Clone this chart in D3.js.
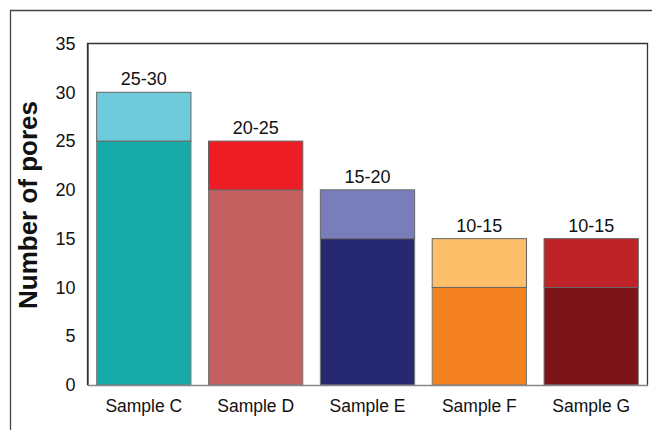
<!DOCTYPE html>
<html><head><meta charset="utf-8">
<script src="https://cdn.jsdelivr.net/npm/d3@7"></script>
<style>body{margin:0;background:#fff;}svg{display:block;font-family:"Liberation Sans",Arial,sans-serif;}</style>
</head><body>
<svg id="chart" width="652" height="430"></svg>
<script>
const categories = ["Sample C", "Sample D", "Sample E", "Sample F", "Sample G"];
const lowerValues = [25, 20, 15, 10, 10];
const upperValues = [30, 25, 20, 15, 15];
const rangeLabels = ["25-30", "20-25", "15-20", "10-15", "10-15"];
const lowerColors = ["#16aaa8", "#c46060", "#262872", "#f58220", "#7b1416"];
const upperColors = ["#6dcbdb", "#ee1c25", "#7a7dbb", "#fdbf6a", "#be2327"];
const yTicks = [0, 5, 10, 15, 20, 25, 30, 35];

const svg = d3.select("#chart");
const pLeft = 87.5, pRight = 647.5, pTop = 43.5, pBottom = 385;

// outer frame
svg.append("path").attr("d", "M10.5,430 V10.5 H652").attr("fill", "none").attr("stroke", "#444").attr("stroke-width", 1.3);

const x = d3.scaleBand().domain(categories).range([pLeft, pRight]).paddingInner(0.157).paddingOuter(0.082);
const y = d3.scaleLinear().domain([0, 35]).range([pBottom, pTop]);

// plot frame
svg.append("path").attr("d", `M${pLeft},${pBottom} V${pTop} H${pRight} V${pBottom}`).attr("fill", "none").attr("stroke", "#333").attr("stroke-width", 1.3);

const data = categories.map((c, i) => ({c, lo: lowerValues[i], hi: upperValues[i], lab: rangeLabels[i], cl: lowerColors[i], cu: upperColors[i]}));

const g = svg.append("g");
g.selectAll("rect.lo").data(data).join("rect").attr("class", "lo")
  .attr("x", d => x(d.c)).attr("width", x.bandwidth())
  .attr("y", d => y(d.lo)).attr("height", d => y(0) - y(d.lo))
  .attr("fill", d => d.cl).attr("stroke", "#777").attr("stroke-width", 1);
g.selectAll("rect.hi").data(data).join("rect").attr("class", "hi")
  .attr("x", d => x(d.c)).attr("width", x.bandwidth())
  .attr("y", d => y(d.hi)).attr("height", d => y(d.lo) - y(d.hi))
  .attr("fill", d => d.cu).attr("stroke", "#666").attr("stroke-width", 1);

g.selectAll("text.rl").data(data).join("text").attr("class", "rl")
  .attr("x", d => x(d.c) + x.bandwidth() / 2).attr("y", d => y(d.hi) - 7)
  .attr("text-anchor", "middle").attr("font-size", 18).attr("fill", "#111").text(d => d.lab);

// y axis
const yAxis = d3.axisLeft(y).tickValues(yTicks).tickSize(0).tickPadding(12);
const ya = svg.append("g").attr("transform", `translate(${pLeft},0)`).call(yAxis);
ya.select(".domain").attr("stroke", "#333").attr("stroke-width", 1.3);
ya.selectAll("text").attr("font-size", 18).attr("fill", "#111").attr("font-family", "Liberation Sans, Arial, sans-serif");

// x axis
const xAxis = d3.axisBottom(x).tickSize(0).tickPadding(15);
const xa = svg.append("g").attr("transform", `translate(0,${pBottom})`).call(xAxis);
xa.select(".domain").attr("stroke", "#888").attr("stroke-width", 1.5);
xa.selectAll("text").attr("font-size", 17.5).attr("fill", "#111").attr("font-family", "Liberation Sans, Arial, sans-serif");

svg.append("text").attr("transform", "translate(37,205) rotate(-90)")
  .attr("text-anchor", "middle").attr("font-size", 26).attr("font-weight", "bold").attr("fill", "#111")
  .text("Number of pores");
</script>
</body></html>
